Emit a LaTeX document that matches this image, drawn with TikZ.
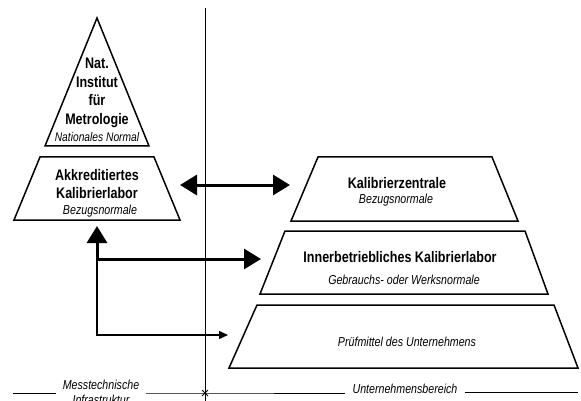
\documentclass[tikz,border=0pt]{standalone}
\usepackage{fontspec}
\setmainfont{Liberation Sans}[FakeStretch=0.82]
\usetikzlibrary{positioning, arrows.meta}

\begin{document}
\begin{tikzpicture}[
    x=1pt, y=-1pt,
    stufe/.style = {draw, line width=1.5pt, line join=miter},
    titel/.style = {font=\bfseries\fontsize{15.3}{18.5}\selectfont, align=center, inner sep=0pt},
    normal/.style = {font=\itshape\fontsize{13}{15}\selectfont, align=center, inner sep=0pt},
    breit/.style = {line width=3pt, -{Triangle[length=17pt, width=20pt]}},
    duenn/.style = {line width=1.2pt, -{Triangle[length=9pt, width=8pt]}},
    grenze/.style = {line width=0.8pt}
  ]
  \useasboundingbox (0,0) rectangle (581,401);

  % Messtechnische Infrastruktur
  \draw[stufe] (97,18) -- (149,146) -- (45,146) -- cycle;
  \node[titel] (NMI) at (97,93) {Nat.\\Institut\\für\\Metrologie};
  \node[normal, font=\itshape\fontsize{12.5}{15}\selectfont] (NMIn) at (97,137) {Nationales Normal};

  \draw[stufe] (40,157) -- (154,157) -- (180,220) -- (14,220) -- cycle;
  \node[titel] (AKL) at (97,184) {Akkreditiertes\\Kalibrierlabor};
  \node[normal] (AKLn) at (100,211) {Bezugsnormale};

  % Unternehmensbereich
  \draw[stufe] (318,157) -- (492,157) -- (518,221) -- (291,221) -- cycle;
  \node[titel] (KZ) at (397,183) {Kalibrierzentrale};
  \node[normal] (KZn) at (396,200) {Bezugsnormale};

  \draw[stufe] (285,231) -- (525,231) -- (548,294) -- (260,294) -- cycle;
  \node[titel] (IKL) at (400,257) {Innerbetriebliches Kalibrierlabor};
  \node[normal] (IKLn) at (404,280) {Gebrauchs- oder Werksnormale};

  \draw[stufe] (257,305) -- (554,305) -- (578,368) -- (229,368) -- cycle;
  \node[normal] (PDU) at (407,342) {Prüfmittel des Unternehmens};

  % Verbindungen
  \coordinate (AKLr) at (180,185);
  \coordinate (KZl) at (290,185);
  \coordinate (AKLu) at (97,226);
  \coordinate (knoten) at (97,259);
  \coordinate (IKLl) at (261,259);
  \coordinate (PDUl) at (228,335);

  \draw[breit, {Triangle[length=17pt, width=20pt]}-{Triangle[length=17pt, width=20pt]}] (AKLr) -- (KZl);
  \draw[breit] (knoten) -- (AKLu);
  \draw[breit] (knoten) -- (IKLl);
  \draw[duenn] (knoten) |- (PDUl);

  % Grenze
  \coordinate (oben) at (205,8);
  \coordinate (unten) at (205,401);
  \draw[line width=0.6pt] (oben) -- (unten);

  \node[normal, inner sep=7pt] (MTI) at (101,392) {Messtechnische\\Infrastruktur};
  \node[normal, inner sep=7pt] (UB) at (405,389) {Unternehmensbereich};
  \coordinate (links) at (13,393);
  \coordinate (rechts) at (578,392);
  \coordinate (mitte) at (205,393);
  \draw[grenze] (links) -- (MTI.west |- links);
  \draw[grenze] (MTI.east |- links) -- (mitte) -- (UB.west |- mitte);
  \draw[grenze] (UB.east |- rechts) -- (rechts);
  \draw[line width=0.8pt] ([shift={(-3,-3)}]mitte) -- ([shift={(3,3)}]mitte)
                          ([shift={(-3,3)}]mitte) -- ([shift={(3,-3)}]mitte);

\end{tikzpicture}
\end{document}
